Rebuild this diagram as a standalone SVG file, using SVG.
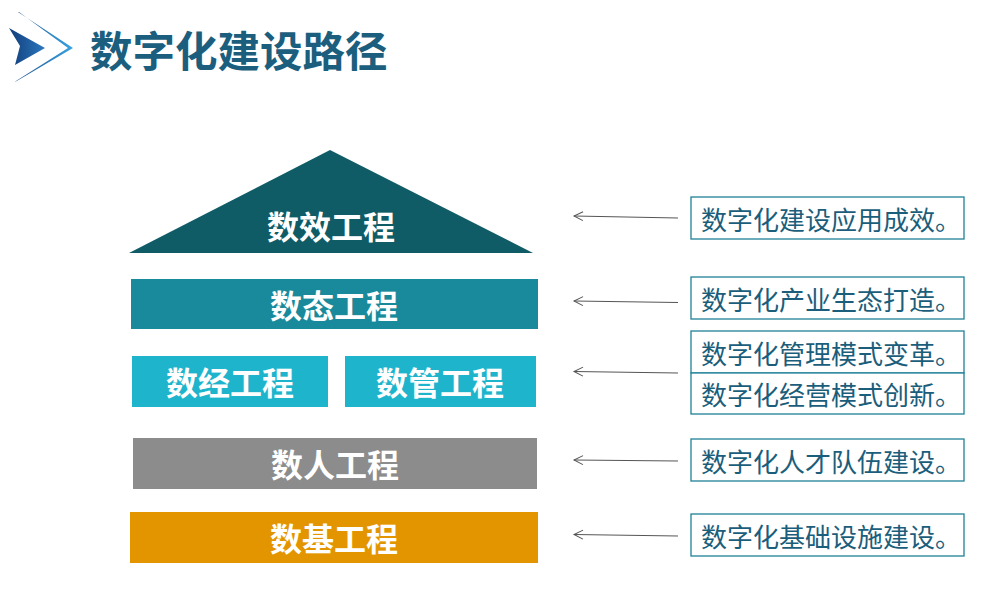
<svg xmlns="http://www.w3.org/2000/svg" width="994" height="595" viewBox="0 0 994 595">
<style>
.bt{font-family:"Noto Sans CJK SC","Noto Sans",sans-serif;font-weight:bold;font-size:32px;fill:#fff;text-anchor:middle;dominant-baseline:central}
.lt{font-family:"Noto Sans CJK SC","Noto Sans",sans-serif;font-size:26px;fill:#1B5E7B;dominant-baseline:central}
.lb{fill:#fff;stroke:#1F8097;stroke-width:1.3}
.ar{stroke:#555;stroke-width:1;fill:none;marker-end:url(#ah)}
</style>
<defs>
<marker id="ah" markerWidth="12" markerHeight="12" refX="10" refY="5" orient="auto" markerUnits="userSpaceOnUse" viewBox="0 0 12 10">
<path d="M1,0.5 L10,5 L1,9.5" fill="none" stroke="#555" stroke-width="1"/>
</marker>
<linearGradient id="g1" x1="0" y1="0" x2="1" y2="0">
<stop offset="0" stop-color="#1B4E8C"/>
<stop offset="1" stop-color="#3AA3E3"/>
</linearGradient>
<linearGradient id="g2" x1="0" y1="0" x2="1" y2="0">
<stop offset="0" stop-color="#123D7A"/>
<stop offset="1" stop-color="#2B78BF"/>
</linearGradient>
</defs>
<g id="logo">
<polygon points="18,12 73,48 15,82 16,81 68,48 19,12" fill="url(#g1)"/>
<polygon points="9,28 45,48 15,65 20,46" fill="url(#g2)"/>
</g>
<text id="title" x="90" y="48" font-family="'Noto Sans CJK SC','Noto Sans',sans-serif" font-weight="bold" font-size="42.5" fill="#1B5E7D" dominant-baseline="central">数字化建设路径</text>
<g id="n-shuxiao">
<polygon points="330,150 533,253 129,253" fill="#0F5B66"/>
<text class="bt" x="331" y="225">数效工程</text>
</g>
<g id="n-shutai">
<rect x="131" y="279" width="407" height="50" fill="#198A9B"/>
<text class="bt" x="334" y="304">数态工程</text>
</g>
<g id="n-shujing">
<rect x="132" y="356" width="196" height="51" fill="#1EB4CC"/>
<text class="bt" x="230" y="381">数经工程</text>
</g>
<g id="n-shuguan">
<rect x="345" y="356" width="191" height="51" fill="#1EB4CC"/>
<text class="bt" x="440" y="381">数管工程</text>
</g>
<g id="n-shuren">
<rect x="133" y="438" width="404" height="51" fill="#8C8C8C"/>
<text class="bt" x="335" y="463">数人工程</text>
</g>
<g id="n-shuji">
<rect x="130" y="512" width="408" height="51" fill="#E39500"/>
<text class="bt" x="334" y="537">数基工程</text>
</g>
<g id="l1"><rect class="lb" x="691" y="197" width="273" height="42"/><text class="lt" x="701" y="218">数字化建设应用成效。</text></g>
<g id="l2"><rect class="lb" x="691" y="277" width="273" height="42"/><text class="lt" x="701" y="298">数字化产业生态打造。</text></g>
<g id="l3"><rect class="lb" x="691" y="331" width="273" height="42"/><text class="lt" x="701" y="352">数字化管理模式变革。</text></g>
<g id="l4"><rect class="lb" x="691" y="373" width="273" height="41"/><text class="lt" x="701" y="393">数字化经营模式创新。</text></g>
<g id="l5"><rect class="lb" x="691" y="439" width="273" height="42"/><text class="lt" x="701" y="460">数字化人才队伍建设。</text></g>
<g id="l6"><rect class="lb" x="691" y="514" width="273" height="42"/><text class="lt" x="701" y="535">数字化基础设施建设。</text></g>
<g id="connectors">
<path class="ar" d="M678,218 L574,216"/>
<path class="ar" d="M678,302.5 L574,301"/>
<path class="ar" d="M678,373 L574,371.5"/>
<path class="ar" d="M678,461 L574,460"/>
<path class="ar" d="M678,536 L574,534.5"/>
</g>
</svg>
